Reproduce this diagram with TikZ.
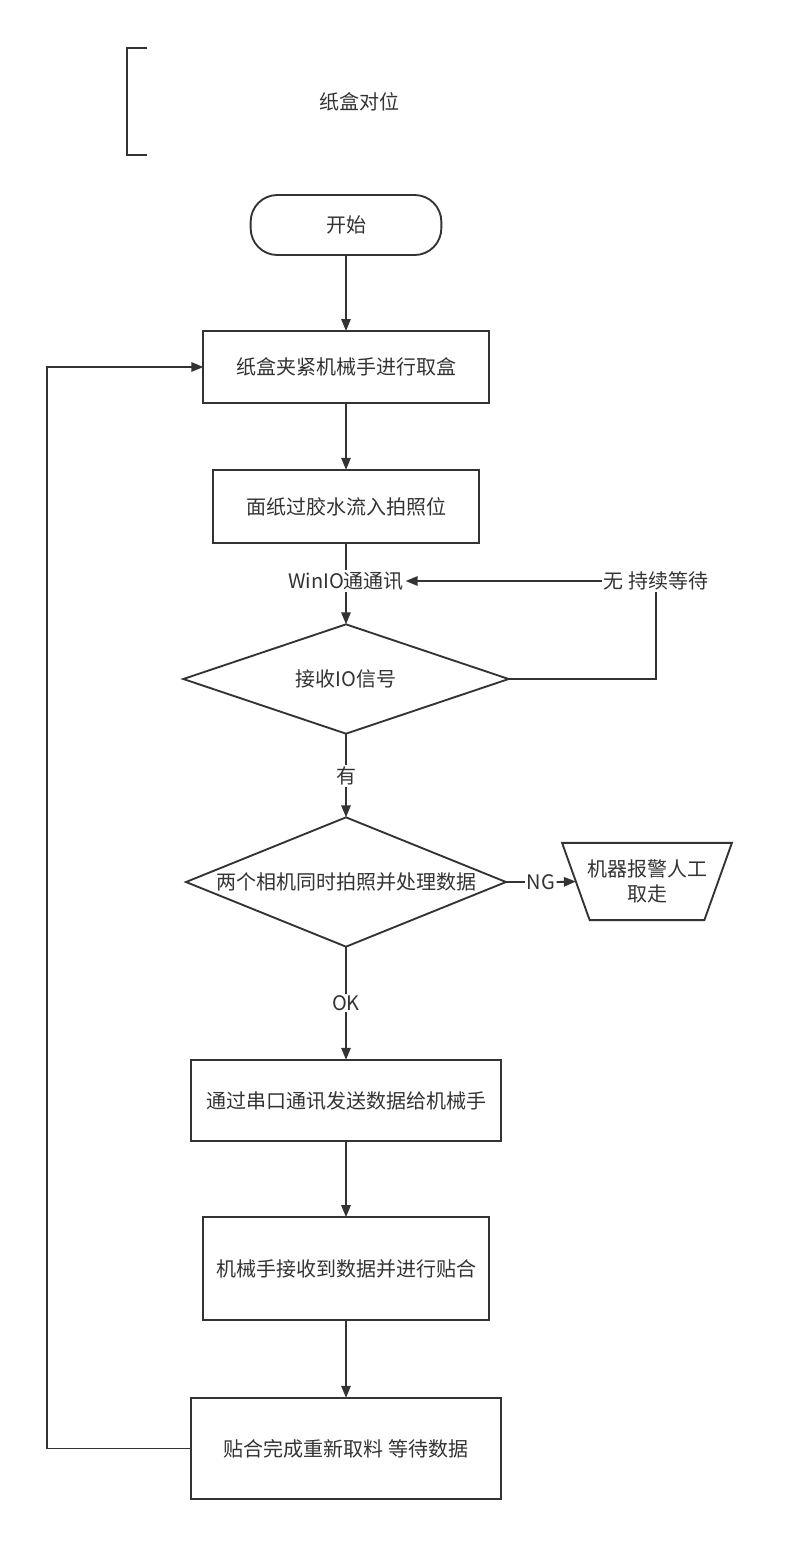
\documentclass[tikz,border=0pt]{standalone}
\usepackage{fontspec}
\newfontfamily\cjk{Noto Sans CJK SC}
\usetikzlibrary{positioning, arrows.meta, shapes.geometric}
\definecolor{ink}{HTML}{333333}

\begin{document}
\begin{tikzpicture}[
        x=0.75pt, y=-0.75pt,
        every node/.style = {font=\cjk\fontsize{15}{19}\selectfont, text=ink},
        box/.style = {draw=ink, line width=1.4pt, outer sep=0pt, align=center},
        term/.style = {box, rounded corners=20pt, minimum width=143pt, minimum height=45pt},
        decide/.style = {box, diamond, aspect=2.5, inner sep=0pt},
        alarm/.style = {box, trapezium, trapezium left angle=70, trapezium right angle=70,
                        shape border rotate=180, trapezium stretches body=true,
                        minimum width=127pt, minimum height=58pt, inner xsep=-2pt, inner ysep=12pt},
        lbl/.style = {inner sep=1pt},
        arrow/.style = {-{Triangle[length=9pt, width=7pt]}, draw=ink, line width=1.4pt},
        line/.style = {draw=ink, line width=1.4pt},
    ]
        \useasboundingbox (0,0) rectangle (794,1561);
        % annotation
        \draw[line] (147,48) -- (127,48) -- (127,155) -- (147,155);
        \node (note) at (359,102) {纸盒对位};
        % main column
        \node[term] (start) at (346,225) {开始};
        \node[box, minimum width=214pt, minimum height=54pt] (grab) at (346,367) {纸盒夹紧机械手进行取盒};
        \node[box, minimum width=199pt, minimum height=55pt] (glue) at (346,506.5) {面纸过胶水流入拍照位};
        \node[lbl] (winio) at (346,581) {WinIO通通讯};
        \node[decide, minimum width=244pt, minimum height=82pt] (io) at (346,679) {接收IO信号};
        \node[lbl] (wait) at (656,581) {无 持续等待};
        \node[lbl] (yes) at (346,776) {有};
        \node[decide, minimum width=240pt, minimum height=97pt] (shot) at (346,882) {两个相机同时拍照并处理数据};
        \node[lbl] (ng) at (541,882) {NG};
        \node[alarm] (warn) at (647,881.5) {机器报警人工\\取走};
        \node[lbl] (ok) at (346,1003) {OK};
        \node[box, minimum width=232pt, minimum height=61pt] (send) at (346,1100.5) {通过串口通讯发送数据给机械手};
        \node[box, minimum width=215pt, minimum height=77pt] (paste) at (346,1268.5) {机械手接收到数据并进行贴合};
        \node[box, minimum width=232pt, minimum height=76pt] (redo) at (346,1448.5) {贴合完成重新取料 等待数据};
        % connectors
        \draw[arrow] (start) -- (grab);
        \draw[arrow] (grab) -- (glue);
        \draw[line] (glue) -- (winio);
        \draw[arrow] (winio) -- (io);
        \draw[line] (io.east) -| (wait.south);
        \draw[arrow] (wait.west) -- (winio.east);
        \draw[line] (io) -- (yes);
        \draw[arrow] (yes) -- (shot);
        \draw[line] (shot.east) -- (ng.west);
        \draw[arrow] (ng.east) -- (warn.west);
        \draw[line] (shot) -- (ok);
        \draw[arrow] (ok) -- (send);
        \draw[arrow] (send) -- (paste);
        \draw[arrow] (paste) -- (redo);
        \draw[arrow] (redo.west) -- ++(-144,0) |- (grab.west);
    \end{tikzpicture}
\end{document}
